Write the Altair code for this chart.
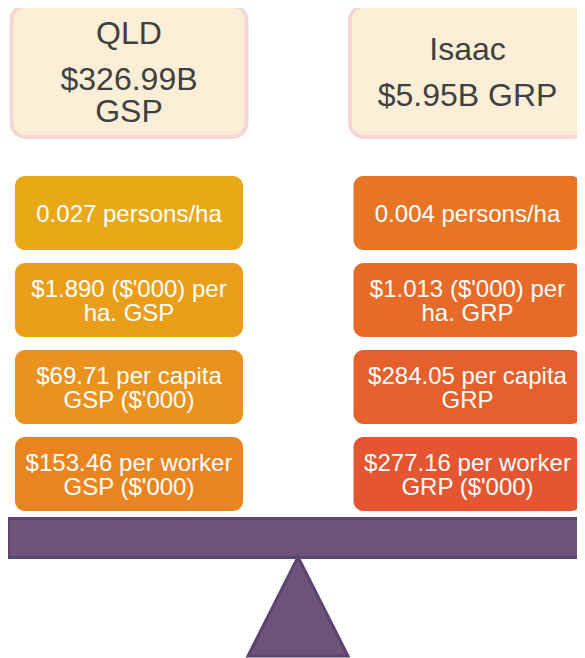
import altair as alt
import pandas as pd

# ---- data ----
regions = ["QLD", "Isaac"]
region_totals = ["$326.99B\nGSP", "$5.95B GRP"]
metric_rows = ["density", "gsp_per_ha", "per_capita", "per_worker"]
qld_metrics = [
    "0.027 persons/ha",
    "$1.890 ($'000) per\nha. GSP",
    "$69.71 per capita\nGSP ($'000)",
    "$153.46 per worker\nGSP ($'000)",
]
isaac_metrics = [
    "0.004 persons/ha",
    "$1.013 ($'000) per\nha. GRP",
    "$284.05 per capita\nGRP",
    "$277.16 per worker\nGRP ($'000)",
]
qld_colors = ["#E8A917", "#E99F19", "#E9921D", "#E98520"]
isaac_colors = ["#E87525", "#E86A29", "#E5602C", "#E45631"]

# ---- tables built from the arrays ----
header_df = pd.DataFrame({"region": regions, "total": region_totals})
header_df["nlines"] = [t.count("\n") + 1 for t in region_totals]

rows = []
for reg, labels, cols in [("QLD", qld_metrics, qld_colors), ("Isaac", isaac_metrics, isaac_colors)]:
    for m, lab in zip(metric_rows, labels):
        rows.append({"region": reg, "metric": m, "label": lab,
                     "key": reg + "-" + m, "nlines": lab.count("\n") + 1})
metric_df = pd.DataFrame(rows)
color_domain = [r["key"] for r in rows]
color_range = qld_colors + isaac_colors

FONT = "Liberation Sans"

x_enc = alt.X("region:N", axis=None,
              scale=alt.Scale(domain=regions, range=[-48.25, 628.75],
                              paddingInner=0, paddingOuter=0))
y_enc = alt.Y("metric:N", axis=None,
              scale=alt.Scale(domain=metric_rows, range=[161.5, 509.5],
                              paddingInner=0, paddingOuter=0))


def centred_text(df, field, lh, y, extra_dy=0.0, **mark_kw):
    """One text layer per line count so that each multi-line block is centred."""
    layers = []
    for n in sorted(df["nlines"].unique()):
        layers.append(
            alt.Chart(df).transform_filter(f"datum.nlines == {int(n)}").mark_text(
                font=FONT, lineHeight=lh, baseline="middle", align="center",
                lineBreak="\n", dy=-(int(n) - 1) * lh / 2 + extra_dy, **mark_kw
            ).encode(x=x_enc, y=y, text=f"{field}:N")
        )
    return layers


header_box = alt.Chart(header_df).mark_rect(
    width=235, cornerRadius=14, fill="#FAEFD6", stroke="#F6D6D2", strokeWidth=4
).encode(x=x_enc, y=alt.value(-2), y2=alt.value(129))

# region name sits above the total; shift it up by the total's extra lines
name_layers = []
for n in sorted(header_df["nlines"].unique()):
    name_layers.append(
        alt.Chart(header_df).transform_filter(f"datum.nlines == {int(n)}").mark_text(
            font=FONT, fontSize=32, color="#404040", baseline="middle", align="center",
            dy=-(int(n) - 1) * 16
        ).encode(x=x_enc, y=alt.value(41.5), text="region:N")
    )

total_layers = centred_text(header_df, "total", 32, alt.value(88),
                            fontSize=32, color="#404040")

metric_box = alt.Chart(metric_df).mark_rect(
    width=228, height=74, cornerRadius=10
).encode(
    x=x_enc, y=y_enc,
    color=alt.Color("key:N", legend=None,
                    scale=alt.Scale(domain=color_domain, range=color_range)),
)

metric_layers = centred_text(metric_df, "label", 24, y_enc, extra_dy=1.5,
                             fontSize=24, color="white")

pivot = pd.DataFrame({"part": ["seesaw"]})
beam = alt.Chart(pivot).mark_rect(
    fill="#6D547B", stroke="#5D4470", strokeWidth=3
).encode(x=alt.value(0.5), x2=alt.value(590), y=alt.value(510.5), y2=alt.value(549.5))

fulcrum = alt.Chart(pivot).mark_point(
    shape="M0,-1L1,0.98L-1,0.98Z", size=10000, filled=True, opacity=1,
    fill="#6D547B", stroke="#5D4470", strokeWidth=3
).encode(x=alt.value(290), y=alt.value(599))

chart = alt.layer(
    header_box, *name_layers, *total_layers, metric_box, *metric_layers, beam, fulcrum
).resolve_scale(y="independent").properties(
    width=569, height=650, padding=0, autosize="none"
).configure_view(stroke=None)

chart.save("out.html", embed_options={"renderer": "svg", "actions": False})
